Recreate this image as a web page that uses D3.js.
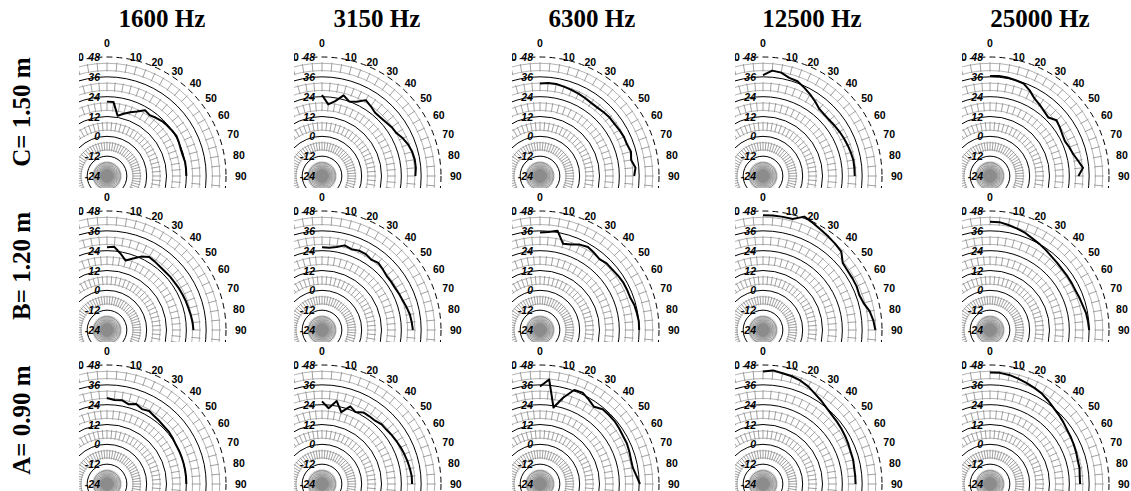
<!DOCTYPE html>
<html><head><meta charset="utf-8">
<script src="https://cdn.jsdelivr.net/npm/d3@7"></script>
<style>body{margin:0;background:#fff}svg{display:block}</style>
</head><body>
<svg id="chart" width="1131" height="491"></svg>
<script>
// ---- data ----
const frequencies = ["1600 Hz", "3150 Hz", "6300 Hz", "12500 Hz", "25000 Hz"];
const distances = ["C= 1.50 m", "B= 1.20 m", "A= 0.90 m"];
const angles = [0,5,10,15,20,25,30,35,40,45,50,55,60,65,70,75,80,85,90];
const angleTicks = [0,10,20,30,40,50,60,70,80,90];
const levelTicks = [48,36,24,12,0,-12,-24];

const C_1600  = [21,21,13,15,17,19,22,21,22,23,23.5,24,24.5,24,23.5,23.5,24,24,24];
const C_3150  = [25,19.5,22,26.5,24,25.5,29,27.5,26,26,26.5,27.5,28,30,31.5,32.5,33,33,32.5];
const C_6300  = [32,32.5,32.5,32,31.5,31,30.5,30,30,30.5,31,31,31.5,32,32,33,32,34,33];
const C_12500 = [37,40,39.5,37.5,37,35,33,31,29,28.5,28.5,29,29.5,30,30.5,31,31.5,31.5,31.5];
const C_25000 = [36.5,36.8,36.5,36,35.5,33,30,28.5,27,26,28.5,27.5,26.5,26,27,28,30,32.5,29.5];

const B_1600  = [26,26.5,23,19.5,22,25,27,26.5,26,25.8,26,26,26.3,26.5,26.8,27,27.5,28,28.3];
const B_3150  = [26,26,27,29,28,29,29,28,29,28,27,27,27,27.5,28,29,30,30.5,31];
const B_6300  = [35,35.5,37,30,31,33,34,33,32,33,33,33.5,34,34,34,35,35.5,36,36];
const B_12500 = [45.5,45.5,45.5,45.5,49,47.5,46,45,44,43,39,38.5,38.5,38.5,38,39,41.5,43,44];
const B_25000 = [41.5,41.5,40.5,39.5,38.5,37,36,35,34,33.5,33,33,33,33,33.5,34,35,35.5,36];

const A_1600  = [28,27,27.5,26,27.5,26,27,26,25.5,25,25,24.5,24,24,24,24,24,24,24];
const A_3150  = [26,22,27,21,26,24,26,26,26,27,27,27.5,28,28.5,29,29.5,30,30.5,30.5];
const A_6300  = [35,39.5,23,30,36.5,37,35,33,35,35,35,34.5,34,34,33.5,33,33,34.5,36.5];
const A_12500 = [44,45,44,43.5,42.5,41,39,37.5,36,35,34.5,34,33.5,33,32.5,32.5,32,32,32];
const A_25000 = [43.5,43.5,43,42,41,40,39,37.5,36,35,34,33,32.5,32,31.5,31,31,30.5,30.5];

const panelData = [
  [C_1600, C_3150, C_6300, C_12500, C_25000],
  [B_1600, B_3150, B_6300, B_12500, B_25000],
  [A_1600, A_3150, A_6300, A_12500, A_25000]
];

// ---- layout ----
const colX = [107, 322, 540, 763, 990];
const rowY = [176, 330, 484];
const R = 119;
const svg = d3.select("#chart");
const r = d3.scaleLinear().domain([-24, 48]).range([0, R]);
const toRad = d => d * Math.PI / 180;

const defs = svg.append("defs");

// titles
svg.selectAll("text.coltitle").data(frequencies).join("text")
  .attr("class","coltitle")
  .attr("x",(d,i)=>colX[i] + [55,55,52,49,50][i])
  .attr("y",27)
  .attr("text-anchor","middle")
  .attr("font-family","'Liberation Serif','Times New Roman',serif")
  .attr("font-weight","bold").attr("font-size",25)
  .text(d=>d);

svg.selectAll("text.rowtitle").data(distances).join("text")
  .attr("class","rowtitle")
  .attr("transform",(d,i)=>`translate(30,${rowY[i]-64}) rotate(-90)`)
  .attr("text-anchor","middle")
  .attr("font-family","'Liberation Serif','Times New Roman',serif")
  .attr("font-weight","bold").attr("font-size",25)
  .text(d=>d);

const bandCenters = [42,30,18,6,-6,-18];
const tickAngles = d3.range(0,360,5);
const line = d3.lineRadial()
  .angle((d,i)=>toRad(angles[i]))
  .radius(d=>r(d));

rowY.forEach((cy, ri) => {
  colX.forEach((cx, ci) => {
    const id = `clip${ri}_${ci}`;
    defs.append("clipPath").attr("id", id).append("rect")
      .attr("x", cx-28).attr("y", cy-142).attr("width", 175).attr("height", 154);
    const g = svg.append("g").attr("clip-path", `url(#${id})`)
      .append("g").attr("transform", `translate(${cx},${cy})`);

    // grey band circles
    bandCenters.forEach(v => {
      [v-2.2, v+2.2].forEach(w => {
        g.append("circle").attr("r", r(w)).attr("fill","none")
          .attr("stroke","#a0a0a0").attr("stroke-width",0.8);
      });
      g.selectAll(null).data(tickAngles).join("line")
        .attr("x1", a => r(v-2.8)*Math.sin(toRad(a)))
        .attr("y1", a => -r(v-2.8)*Math.cos(toRad(a)))
        .attr("x2", a => r(v+2.8)*Math.sin(toRad(a)))
        .attr("y2", a => -r(v+2.8)*Math.cos(toRad(a)))
        .attr("stroke","#8a8a8a").attr("stroke-width",0.8);
    });
    // black circles
    [36,24,12,0,-12].forEach(v => {
      g.append("circle").attr("r", r(v)).attr("fill","none")
        .attr("stroke","#000").attr("stroke-width",1);
    });
    g.append("circle").attr("r", r(48)).attr("fill","none")
      .attr("stroke","#000").attr("stroke-width",1).attr("stroke-dasharray","6,4");
    // centre dot
    g.append("circle").attr("r", 6.5).attr("fill","#8c8c8c");

    // radial labels
    g.selectAll("text.lv").data(levelTicks).join("text")
      .attr("class","lv")
      .attr("x",-7).attr("y",v=>-r(v)+4)
      .attr("text-anchor","end")
      .attr("font-family","'Liberation Sans',Arial,sans-serif")
      .attr("font-weight","bold").attr("font-style","italic").attr("font-size",10.5)
      .text(v=>v);

    // angle labels (plus the mirrored 10 on the left, which the clip cuts)
    angleTicks.forEach(a => {
      const t = toRad(a);
      if (a === 0) {
        g.append("text").attr("x",0).attr("y",-129)
          .attr("text-anchor","middle")
          .attr("font-family","'Liberation Sans',Arial,sans-serif")
          .attr("font-weight","bold").attr("font-size",10.5).text(a);
      } else {
        const yy = -121*Math.cos(t) + 3.8;
        g.append("text")
          .attr("x", 127*Math.sin(t)+1)
          .attr("y", yy)
          .attr("text-anchor","start")
          .attr("font-family","'Liberation Sans',Arial,sans-serif")
          .attr("font-weight","bold").attr("font-size",10.5).text(a);
        if (a === 10) {
          g.append("text")
            .attr("x", -(127*Math.sin(t)+1))
            .attr("y", yy)
            .attr("text-anchor","end")
            .attr("font-family","'Liberation Sans',Arial,sans-serif")
            .attr("font-weight","bold").attr("font-size",10.5).text(a);
        }
      }
    });

    // data curve
    g.append("path").datum(panelData[ri][ci])
      .attr("d", line).attr("fill","none")
      .attr("stroke","#000").attr("stroke-width",2).attr("stroke-linejoin","round");
  });
});
</script>
</body></html>
